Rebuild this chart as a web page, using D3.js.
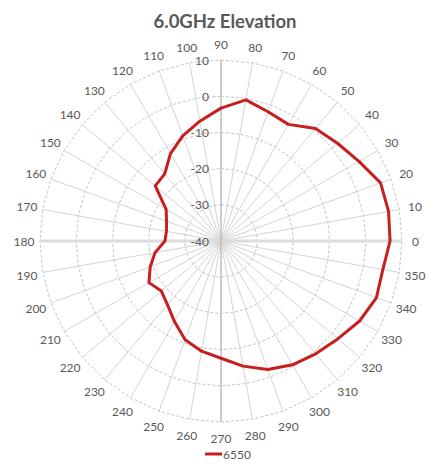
<!DOCTYPE html>
<html><head><meta charset="utf-8">
<script src="https://cdn.jsdelivr.net/npm/d3@7"></script>
<style>body{margin:0;background:#fff}svg{display:block}</style>
</head><body><svg id="c" width="448" height="470"></svg>
<script>
// Categories in chart order (clockwise from top)
const categories = [90,80,70,60,50,40,30,20,10,0,350,340,330,320,310,300,290,280,270,260,250,240,230,220,210,200,190,180,170,160,150,140,130,120,110,100];
const series6550 = [-3.3,-0.4,-2.0,-2.8,0.6,2.0,4.0,6.9,7.0,6.7,5.4,5.7,4.2,2.1,0.7,-0.5,-2.2,-4.9,-7.6,-9.1,-11.0,-14.3,-17.0,-18.5,-17.0,-19.2,-21.5,-24.5,-24.7,-24.0,-22.5,-16.3,-15.8,-12.1,-9.1,-6.4];
const radialTicks = [-40,-30,-20,-10,0,10];
const titleText = "6.0GHz Elevation";
const seriesName = "6550";

const svg = d3.select("#c");
const cx = 221, cy = 241, R = 181;
const font = "Lato, 'Open Sans', sans-serif";
const grey = "#595959";

const r = d3.scaleLinear().domain([-40, 10]).range([0, R]);
const ang = d3.scaleLinear().domain([0, categories.length]).range([0, 2 * Math.PI]);

const g = svg.append("g").attr("transform", `translate(${cx},${cy})`);

// spokes
g.append("g").selectAll("line").data(categories).join("line")
  .attr("x1", 0).attr("y1", 0)
  .attr("x2", (d, i) => R * Math.sin(ang(i)))
  .attr("y2", (d, i) => -R * Math.cos(ang(i)))
  .attr("stroke", "#d4d4d4").attr("stroke-width", 1);

// rings (polygons)
const ringLine = d3.lineRadial().angle((d, i) => ang(i)).radius(d => r(d.v)).curve(d3.curveLinearClosed);
g.append("g").selectAll("path").data(radialTicks.slice(1)).join("path")
  .attr("d", t => ringLine(categories.map(() => ({v: t}))))
  .attr("fill", "none").attr("stroke", "#c4c4c4").attr("stroke-width", 1)
  .attr("stroke-dasharray", "3,2");

// horizontal axis line (0-180)
g.append("line").attr("x1", -R).attr("x2", R).attr("y1", 0).attr("y2", 0)
  .attr("stroke", "#dcdcdc").attr("stroke-width", 3);
// vertical axis line
g.append("line").attr("x1", 0).attr("x2", 0).attr("y1", -R).attr("y2", R)
  .attr("stroke", "#b0b0b0").attr("stroke-width", 1);

// radial tick labels
g.append("g").selectAll("text").data(radialTicks).join("text")
  .attr("x", -12).attr("y", t => -r(t))
  .attr("text-anchor", "end").attr("dominant-baseline", "central")
  .attr("font-family", font).attr("font-size", 12).attr("fill", grey)
  .text(t => t);

// category labels
const cl = g.append("g").selectAll("text").data(categories).join("text")
  .attr("text-anchor", "middle").attr("dominant-baseline", "central")
  .attr("font-family", font).attr("font-size", 12).attr("fill", grey)
  .text(d => d);
cl.each(function(d, i) {
  const w = this.getComputedTextLength();
  const rr = 191 + Math.min(w, 12) / 2;
  d3.select(this).attr("x", rr * Math.sin(ang(i))).attr("y", -rr * Math.cos(ang(i)));
});

// data line
const dataLine = d3.lineRadial().angle((d, i) => ang(i)).radius(d => r(d)).curve(d3.curveLinearClosed);
g.append("path").attr("d", dataLine(series6550))
  .attr("fill", "none").attr("stroke", "#c81e1e").attr("stroke-width", 3)
  .attr("stroke-linejoin", "round");

// title
svg.append("text").attr("x", 225).attr("y", 28).attr("text-anchor", "middle")
  .attr("font-family", font).attr("font-weight", "bold").attr("font-size", 18.5)
  .attr("fill", grey).text(titleText);

// legend
svg.append("line").attr("x1", 205).attr("x2", 222).attr("y1", 454).attr("y2", 454)
  .attr("stroke", "#c81e1e").attr("stroke-width", 3);
svg.append("text").attr("x", 223).attr("y", 454).attr("dominant-baseline", "central")
  .attr("font-family", font).attr("font-size", 12).attr("fill", grey).text(seriesName);
</script>
</body></html>
